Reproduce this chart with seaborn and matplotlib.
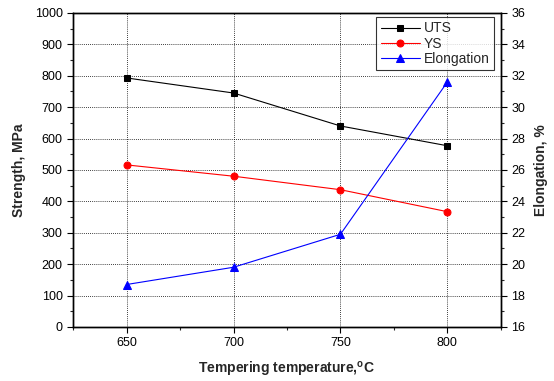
import matplotlib
matplotlib.use("Agg")
import matplotlib.pyplot as plt
import seaborn as sns
import pandas as pd

temps = [650, 700, 750, 800]
uts = [793, 745, 640, 577]
ys = [516, 480, 437, 367]
elong = [18.7, 19.8, 21.9, 31.6]

sns.set_theme(style="white")
plt.rcParams['font.family'] = ['Liberation Sans', 'DejaVu Sans']

fig = plt.figure(figsize=(5.54, 3.81), dpi=100)
ax = fig.add_axes([0.132, 0.142, 0.772, 0.824])
ax2 = ax.twinx()

df = pd.DataFrame({"T": temps, "UTS": uts, "YS": ys, "E": elong})
sns.lineplot(data=df, x="T", y="UTS", ax=ax, color="black", marker="s", markersize=4.6,
             markeredgecolor="black", linewidth=0.8, label="UTS", legend=False)
sns.lineplot(data=df, x="T", y="YS", ax=ax, color="red", marker="o", markersize=5,
             markeredgecolor="red", linewidth=0.8, label="YS", legend=False)
sns.lineplot(data=df, x="T", y="E", ax=ax2, color="blue", marker="^", markersize=5.5,
             markeredgecolor="blue", linewidth=0.8, label="Elongation", legend=False)

ax.set_xlim(625, 825)
ax.set_ylim(0, 1000)
ax2.set_ylim(16, 36)
ax.set_xticks([650, 700, 750, 800])
ax.set_xticks([625, 675, 725, 775, 825], minor=True)
ax.set_yticks(range(0, 1001, 100))
ax.set_yticks(range(50, 1000, 100), minor=True)
ax2.set_yticks(range(16, 37, 2))
ax2.set_yticks(range(17, 36, 2), minor=True)

ax.grid(True, which="major", linestyle=(0, (1, 1.5)), color="black", linewidth=0.6)
ax.set_axisbelow(True)

for a in (ax, ax2):
    for s in a.spines.values():
        s.set_color("black")
        s.set_linewidth(1.0)

ax.tick_params(axis="both", which="major", direction="out", length=4, width=0.8,
               labelsize=9, colors="black", bottom=True, left=True)
ax.tick_params(axis="both", which="minor", direction="out", length=2.5, width=0.8,
               bottom=True, left=True)
ax2.tick_params(axis="y", which="major", direction="out", length=4, width=0.8,
                labelsize=9, colors="black", right=True)
ax2.tick_params(axis="y", which="minor", direction="out", length=2.5, width=0.8, right=True)

ax.set_xlabel("Tempering temperature,$^{\\mathregular{o}}$C", fontsize=10, fontweight="bold", labelpad=8)
ax.set_ylabel("Strength, MPa", fontsize=10, fontweight="bold", labelpad=6)
ax2.set_ylabel("Elongation, %", fontsize=10, fontweight="bold", labelpad=6)

h1, l1 = ax.get_legend_handles_labels()
h2, l2 = ax2.get_legend_handles_labels()
leg = ax2.legend(h1 + h2, l1 + l2, loc="upper right", bbox_to_anchor=(0.99, 0.995),
                 fontsize=10, frameon=True, fancybox=False, edgecolor="black",
                 borderpad=0.3, labelspacing=0.1, handlelength=2.8, handletextpad=0.3,
                 borderaxespad=0.2)
leg.get_frame().set_linewidth(0.8)

fig.savefig("out.png", dpi=100)
